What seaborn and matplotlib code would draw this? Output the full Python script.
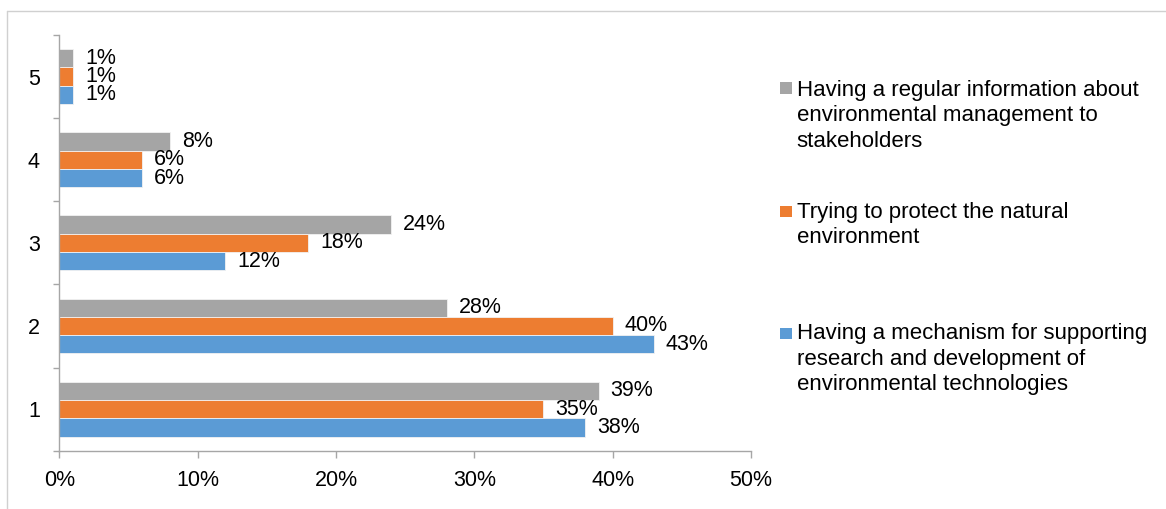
import matplotlib
matplotlib.use("Agg")
import matplotlib.pyplot as plt
from matplotlib.patches import Rectangle
from matplotlib.lines import Line2D
import seaborn as sns
import pandas as pd

# Survey items (categories listed top to bottom)
categories = ["5", "4", "3", "2", "1"]

series_names = [
    "Having a regular information about\nenvironmental management to\nstakeholders",
    "Trying to protect the natural\nenvironment",
    "Having a mechanism for supporting\nresearch and development of\nenvironmental technologies",
]

# Share of respondents (%) for each category, in the order of `categories`
regular_information = [1, 8, 24, 28, 39]
protect_environment = [1, 6, 18, 40, 35]
mechanism_rnd = [1, 6, 12, 43, 38]

x_ticks = [0, 10, 20, 30, 40, 50]

colors = ["#A5A5A5", "#ED7D31", "#5B9BD5"]

rows = []
for name, vals in zip(series_names, [regular_information, protect_environment, mechanism_rnd]):
    for cat, v in zip(categories, vals):
        rows.append({"category": cat, "series": name, "value": v})
df = pd.DataFrame(rows)

sns.set_theme(style="white")
plt.rcParams["font.family"] = ["Liberation Sans", "DejaVu Sans"]

W, H = 1166, 509
fig = plt.figure(figsize=(W / 100, H / 100), dpi=100)
ax = fig.add_axes([59.3 / W, 1 - 450.7 / H, (751 - 59.3) / W, (450.7 - 35) / H])

sns.barplot(
    data=df, y="category", x="value", hue="series",
    order=categories, hue_order=series_names, palette=colors, saturation=1,
    orient="h", width=0.66, legend=False, ax=ax,
    edgecolor="#f2f2f2", linewidth=0.6,
)

for container in ax.containers:
    ax.bar_label(container, fmt="{:.0f}%", padding=8.5, fontsize=15.5, color="#000000")

axis_color = "#a6a6a6"
ax.set_xlim(0, 50)
ax.set_ylim(4.5, -0.5)
ax.set_xticks(x_ticks)
ax.set_xticklabels([f"{t}%" for t in x_ticks])
ax.set_yticks([i - 0.5 for i in range(len(categories) + 1)])
ax.set_yticklabels([])
ax.set_yticks(range(len(categories)), minor=True)
ax.set_yticklabels(categories, minor=True)
ax.set_xlabel("")
ax.set_ylabel("")

for side in ["top", "right"]:
    ax.spines[side].set_visible(False)
for side in ["left", "bottom"]:
    ax.spines[side].set_color(axis_color)
    ax.spines[side].set_linewidth(1.0)

ax.tick_params(axis="x", which="major", direction="out", length=4.8, width=1.0,
               color=axis_color, labelsize=15.5, labelcolor="#000000", pad=9, bottom=True)
ax.tick_params(axis="y", which="major", direction="out", length=4.3, width=1.0,
               color=axis_color, left=True)
ax.tick_params(axis="y", which="minor", length=0, labelsize=15.5, labelcolor="#000000",
               pad=14, left=True)

# Legend drawn as colour swatches with wrapped labels, one text line at a time
line_step = 25.5
legend_rows = [(82.3, 95.7), (205.7, 217.7), (327.7, 339.3)]
for (sq_top, baseline), name, col in zip(legend_rows, series_names, colors):
    fig.add_artist(Rectangle((780 / W, 1 - (sq_top + 11.2) / H), 12 / W, 11.2 / H,
                             transform=fig.transFigure, facecolor=col, edgecolor="none"))
    for i, line in enumerate(name.split("\n")):
        fig.text(796.7 / W, 1 - (baseline + i * line_step) / H, line, fontsize=16,
                 color="#000000", ha="left", va="baseline")

# Chart frame
frame_color = "#d0d0d0"
fig.add_artist(Line2D([7.3 / W, 1.0], [1 - 11 / H, 1 - 11 / H], transform=fig.transFigure,
                      color=frame_color, linewidth=1.0))
fig.add_artist(Line2D([7.3 / W, 7.3 / W], [1 - 11 / H, 0.0], transform=fig.transFigure,
                      color=frame_color, linewidth=1.0))

fig.savefig("out.png", dpi=100)
